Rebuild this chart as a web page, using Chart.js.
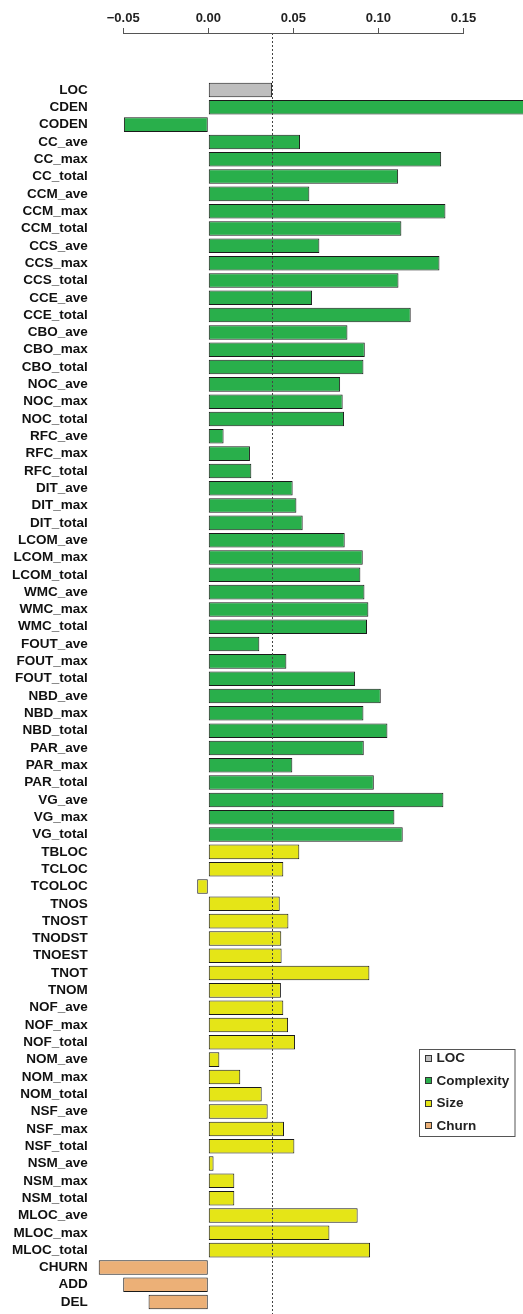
<!DOCTYPE html>
<html>
<head>
<meta charset="utf-8">
<script src="https://cdn.jsdelivr.net/npm/chart.js@4/dist/chart.umd.min.js"></script>
<style>
  html, body { margin: 0; padding: 0; background: #ffffff; }
  #wrap { width: 523px; height: 1314px; }
</style>
</head>
<body>
<div id="wrap"><canvas id="chart" width="523" height="1314"></canvas></div>
<script>
// Metric names, top to bottom
const categories = [
  'LOC', 'CDEN', 'CODEN',
  'CC_ave', 'CC_max', 'CC_total',
  'CCM_ave', 'CCM_max', 'CCM_total',
  'CCS_ave', 'CCS_max', 'CCS_total',
  'CCE_ave', 'CCE_total',
  'CBO_ave', 'CBO_max', 'CBO_total',
  'NOC_ave', 'NOC_max', 'NOC_total',
  'RFC_ave', 'RFC_max', 'RFC_total',
  'DIT_ave', 'DIT_max', 'DIT_total',
  'LCOM_ave', 'LCOM_max', 'LCOM_total',
  'WMC_ave', 'WMC_max', 'WMC_total',
  'FOUT_ave', 'FOUT_max', 'FOUT_total',
  'NBD_ave', 'NBD_max', 'NBD_total',
  'PAR_ave', 'PAR_max', 'PAR_total',
  'VG_ave', 'VG_max', 'VG_total',
  'TBLOC', 'TCLOC', 'TCOLOC', 'TNOS', 'TNOST', 'TNODST', 'TNOEST', 'TNOT', 'TNOM',
  'NOF_ave', 'NOF_max', 'NOF_total',
  'NOM_ave', 'NOM_max', 'NOM_total',
  'NSF_ave', 'NSF_max', 'NSF_total',
  'NSM_ave', 'NSM_max', 'NSM_total',
  'MLOC_ave', 'MLOC_max', 'MLOC_total',
  'CHURN', 'ADD', 'DEL'
];

// Correlation value per metric (same order as categories)
const values = [
  0.0375, 0.2000, -0.0496,
  0.0539, 0.1369, 0.1116,
  0.0594, 0.1394, 0.1135,
  0.0653, 0.1359, 0.1118,
  0.0610, 0.1190,
  0.0818, 0.0920, 0.0912,
  0.0775, 0.0790, 0.0798,
  0.0090, 0.0245, 0.0253,
  0.0496, 0.0518, 0.0555,
  0.0802, 0.0908, 0.0894,
  0.0918, 0.0941, 0.0933,
  0.0300, 0.0459, 0.0863,
  0.1014, 0.0912, 0.1053,
  0.0914, 0.0494, 0.0973,
  0.1382, 0.1094, 0.1143,
  0.0535, 0.0441, -0.0065, 0.0420, 0.0471, 0.0429, 0.0431, 0.0947, 0.0427,
  0.0441, 0.0469, 0.0510,
  0.0065, 0.0188, 0.0314,
  0.0349, 0.0445, 0.0506,
  0.0031, 0.0153, 0.0153,
  0.0878, 0.0712, 0.0951,
  -0.0644, -0.0500, -0.0351
];

// Metric family of each category
const groups = [
  'LOC', 'Complexity', 'Complexity',
  ...Array(41).fill('Complexity'),
  ...Array(24).fill('Size'),
  'Churn', 'Churn', 'Churn'
];

const groupNames = ['LOC', 'Complexity', 'Size', 'Churn'];
const groupColors = ['#bebebe', '#29af4b', '#e5e517', '#ecb077'];

const xTicks = [-0.05, 0.00, 0.05, 0.10, 0.15];
const referenceLine = 0.0376;

const datasets = groupNames.map((g, k) => ({
  label: g,
  data: categories
    .map((c, i) => ({ x: values[i], y: i, g: groups[i] }))
    .filter(p => p.g === g),
  backgroundColor: groupColors[k],
  borderColor: '#1a1a1a',
  borderWidth: 1,
  borderSkipped: false,
  grouped: false,
  categoryPercentage: 1,
  barPercentage: 0.84
}));

const fmtTick = v => {
  const s = Math.abs(v).toFixed(2);
  return v < 0 ? '\u2212' + s : s;
};

// Dotted reference line, axis line and legend box
const overlay = {
  id: 'overlay',
  afterDatasetsDraw(chart) {
    const { ctx, chartArea, scales } = chart;
    const x = Math.round(scales.x.getPixelForValue(referenceLine)) + 0.5;
    ctx.save();
    ctx.strokeStyle = '#444444';
    ctx.lineWidth = 1;
    ctx.setLineDash([2, 2]);
    ctx.beginPath();
    ctx.moveTo(x, chartArea.top);
    ctx.lineTo(x, chartArea.bottom);
    ctx.stroke();
    ctx.restore();
  },
  afterDraw(chart) {
    const { ctx, chartArea, scales } = chart;
    const xs = scales.x;
    ctx.save();
    // axis line spanning first to last tick
    ctx.strokeStyle = '#555555';
    ctx.lineWidth = 1;
    ctx.beginPath();
    const y0 = chartArea.top + 0.5;
    ctx.moveTo(Math.round(xs.getPixelForValue(xTicks[0])), y0);
    ctx.lineTo(Math.round(xs.getPixelForValue(xTicks[xTicks.length - 1])) + 1, y0);
    ctx.stroke();

    // legend
    const bx = 419.5, by = 1049.5, bw = 95.5, bh = 87;
    ctx.fillStyle = '#ffffff';
    ctx.fillRect(bx, by, bw, bh);
    ctx.strokeStyle = '#555555';
    ctx.strokeRect(bx, by, bw, bh);
    ctx.font = 'bold 13.5px "Liberation Sans", Arial, sans-serif';
    ctx.textBaseline = 'middle';
    ctx.textAlign = 'left';
    chart.data.datasets.forEach((ds, k) => {
      const cy = 1058.5 + k * 22.6;
      ctx.fillStyle = ds.backgroundColor;
      ctx.fillRect(425.5, Math.round(cy) - 3.5, 6, 6);
      ctx.strokeStyle = '#333333';
      ctx.strokeRect(425.5, Math.round(cy) - 3.5, 6, 6);
      ctx.fillStyle = '#222222';
      ctx.fillText(ds.label, 436.5, cy);
    });
    ctx.restore();
  }
};

new Chart(document.getElementById('chart'), {
  type: 'bar',
  data: { datasets },
  options: {
    indexAxis: 'y',
    responsive: false,
    animation: false,
    layout: { padding: 0 },
    plugins: {
      legend: { display: false },
      tooltip: { enabled: false }
    },
    scales: {
      x: {
        type: 'linear',
        position: 'top',
        min: -0.066,
        max: 0.185,
        offset: false,
        afterFit: s => { s.height = 33; s.paddingLeft = 0; s.paddingRight = 0; },
        afterBuildTicks: s => { s.ticks = xTicks.map(v => ({ value: v })); },
        border: { display: false },
        grid: {
          display: true,
          offset: false,
          drawOnChartArea: false,
          drawTicks: true,
          tickLength: 5,
          color: '#555555',
          lineWidth: 1
        },
        ticks: {
          padding: 2,
          color: '#222222',
          font: { family: '"Liberation Sans", Arial, sans-serif', size: 13, weight: 'bold' },
          callback: v => fmtTick(v)
        }
      },
      y: {
        type: 'linear',
        reverse: true,
        offset: false,
        min: -3.292,
        max: 70.69,
        afterFit: s => { s.width = 96; s.paddingTop = 0; s.paddingBottom = 0; },
        afterBuildTicks: s => { s.ticks = categories.map((c, i) => ({ value: i })); },
        border: { display: false },
        grid: { display: false, offset: false, drawTicks: false },
        ticks: {
          autoSkip: false,
          padding: 8.3,
          color: '#111111',
          font: { family: '"Liberation Sans", Arial, sans-serif', size: 13.5, weight: 'bold' },
          callback: v => categories[v]
        }
      }
    }
  },
  plugins: [overlay]
});
</script>
</body>
</html>
